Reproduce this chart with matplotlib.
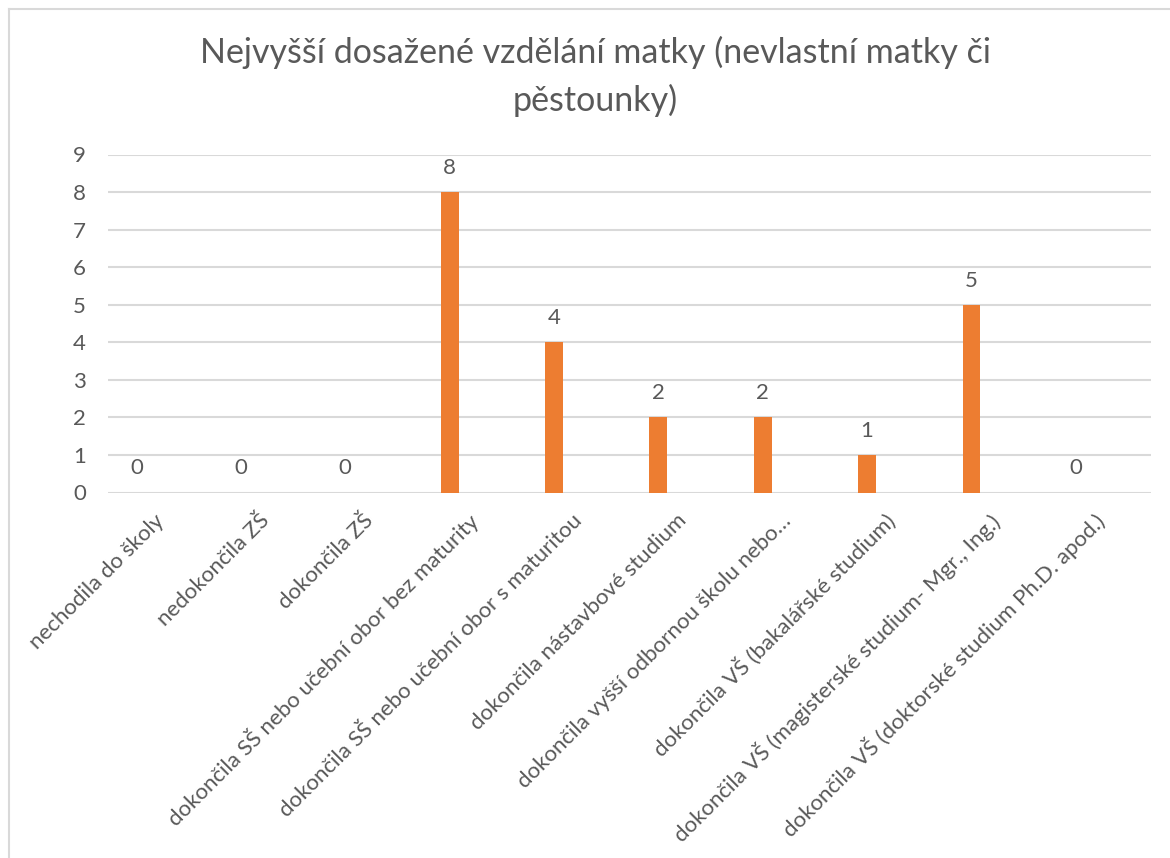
import matplotlib
matplotlib.use("Agg")
import matplotlib.pyplot as plt
from matplotlib.lines import Line2D
from matplotlib.transforms import ScaledTranslation

categories = [
    "nechodila do školy",
    "nedokončila ZŠ",
    "dokončila ZŠ",
    "dokončila SŠ nebo učební obor bez maturity",
    "dokončila SŠ nebo učební obor s maturitou",
    "dokončila nástavbové studium",
    "dokončila vyšší odbornou školu nebo…",
    "dokončila VŠ (bakalářské studium)",
    "dokončila VŠ (magisterské studium- Mgr., Ing.)",
    "dokončila VŠ (doktorské studium Ph.D. apod.)",
]
values = [0, 0, 0, 8, 4, 2, 2, 1, 5, 0]
yticks = list(range(0, 10))
title = "Nejvyšší dosažené vzdělání matky (nevlastní matky či\npěstounky)"

W, H, DPI = 1170, 858, 100
TEXT = "#595959"
GRID = "#D9D9D9"
BAR = "#ED7D31"
FONT = "Lato"
plt.rcParams["font.family"] = [FONT, "DejaVu Sans"]
FS = 16

fig = plt.figure(figsize=(W / DPI, H / DPI), dpi=DPI)
fig.patch.set_facecolor("white")

# plot area in pixels
x0, x1 = 108, 1151
y0, y9 = 492.5, 154.5
ax = fig.add_axes([x0 / W, 1 - y0 / H, (x1 - x0) / W, (y0 - y9) / H])

xs = list(range(len(categories)))
ax.bar(xs, values, width=0.172, color=BAR, zorder=3)
ax.set_xlim(-0.273, 9.72)
ax.set_ylim(0, 9)
ax.set_yticks(yticks)
ax.yaxis.grid(True, color=GRID, linewidth=1.5, zorder=0)
ax.set_axisbelow(True)
for s in ax.spines.values():
    s.set_visible(False)
ax.tick_params(axis="both", length=0, colors=TEXT, labelsize=FS)
ax.tick_params(axis="y", pad=16)
ax.set_xticks(xs)
ax.set_xticklabels(categories, rotation=45, ha="right", va="center",
                   rotation_mode="anchor")
ax.tick_params(axis="x", pad=0)
off = ScaledTranslation(25 / DPI, -25 / DPI, fig.dpi_scale_trans)
for lab in ax.get_xticklabels():
    lab.set_transform(lab.get_transform() + off)

for x, v in zip(xs, values):
    ax.annotate(str(v), (x, v), xytext=(0, 24), textcoords="offset pixels",
                ha="center", va="center", color=TEXT, fontsize=FS)

fig.text(595 / W, 1 - 36 / H, title, ha="center", va="top",
         fontsize=24.5, color=TEXT, linespacing=1.55)

# chart border (left and top)
fig.add_artist(Line2D([8.5 / W, 8.5 / W], [0, 1 - 9 / H], color=GRID,
                      linewidth=1.5, transform=fig.transFigure))
fig.add_artist(Line2D([8.5 / W, 1], [1 - 9 / H, 1 - 9 / H], color=GRID,
                      linewidth=1.5, transform=fig.transFigure))

fig.savefig("out.png", dpi=DPI, facecolor="white")
